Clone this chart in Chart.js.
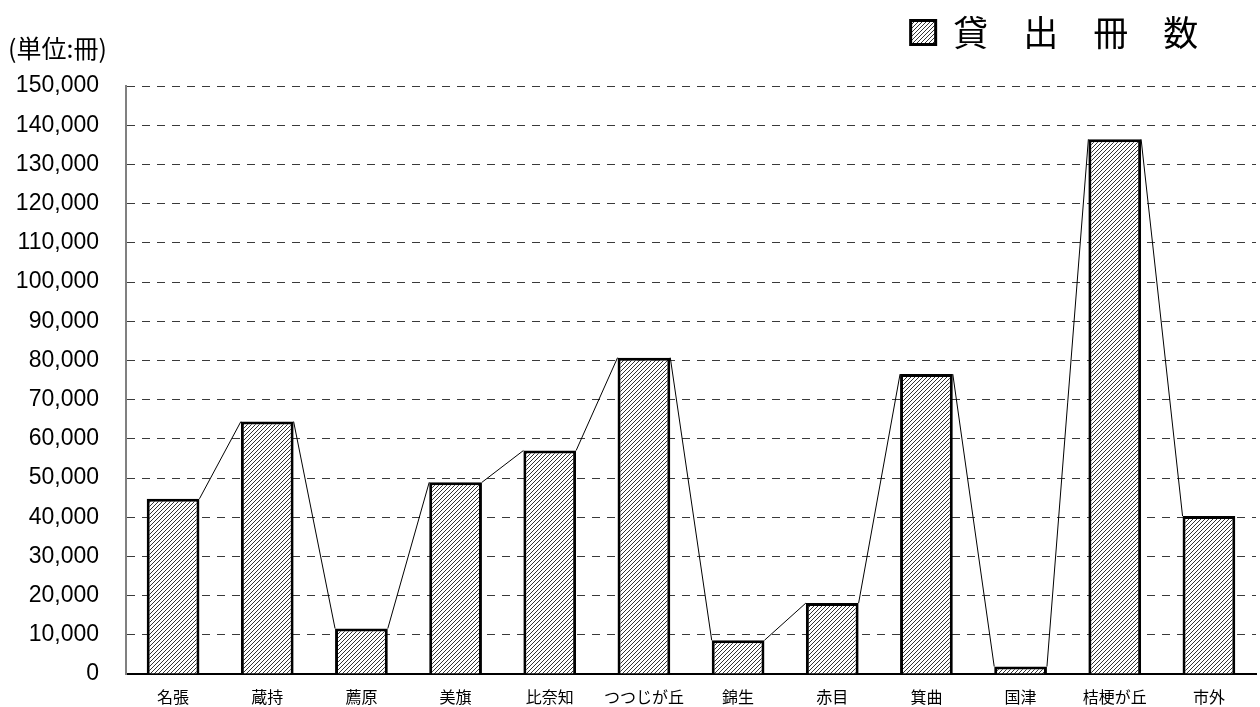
<!DOCTYPE html>
<html>
<head>
<meta charset="utf-8">
<script src="https://cdn.jsdelivr.net/npm/chart.js@4/dist/chart.umd.min.js"></script>
<style>
html,body{margin:0;padding:0;background:#fff;}
#wrap{width:1260px;height:707px;position:relative;}
</style>
</head>
<body>
<div id="wrap"><canvas id="c" width="1260" height="707"></canvas></div>
<script>
const categories = ['名張','蔵持','薦原','美旗','比奈知','つつじが丘','錦生','赤目','箕曲','国津','桔梗が丘','市外'];
const loans = [44700, 64400, 11600, 48900, 57000, 80700, 8600, 18100, 76500, 1900, 136400, 40300];
const seriesLabel = '貸　出　冊　数　 ';
const unitLabel = '(単位:冊)';
const yMin = 0, yMax = 150000, yStep = 10000;

function makeHatch() {
  const n = 4;
  const c = document.createElement('canvas');
  c.width = n; c.height = n;
  const g = c.getContext('2d');
  g.fillStyle = '#fff';
  g.fillRect(0, 0, n, n);
  g.strokeStyle = '#333';
  g.lineWidth = 1;
  g.beginPath();
  g.moveTo(-1, n + 1); g.lineTo(n + 1, -1);
  g.moveTo(-1, 1); g.lineTo(1, -1);
  g.moveTo(n - 1, n + 1); g.lineTo(n + 1, n - 1);
  g.stroke();
  return g.createPattern(c, 'repeat');
}

const ctx = document.getElementById('c').getContext('2d');
const hatch = makeHatch();

const seriesLines = {
  id: 'seriesLines',
  afterDatasetsDraw(chart) {
    const meta = chart.getDatasetMeta(0);
    const c = chart.ctx;
    c.save();
    c.strokeStyle = '#000';
    c.lineWidth = 1;
    c.beginPath();
    for (let i = 0; i < meta.data.length - 1; i++) {
      const a = meta.data[i].getProps(['x','y','width'], true);
      const b = meta.data[i + 1].getProps(['x','y','width'], true);
      c.moveTo(a.x + a.width / 2, a.y);
      c.lineTo(b.x - b.width / 2, b.y);
    }
    c.stroke();
    c.restore();
  }
};

const unitText = {
  id: 'unitText',
  afterDraw(chart) {
    const c = chart.ctx;
    c.save();
    c.fillStyle = '#000';
    c.font = '25px "Noto Sans CJK JP"';
    c.textAlign = 'left';
    c.textBaseline = 'middle';
    c.fillText(unitLabel, 8, 48);
    c.restore();
  }
};

new Chart(ctx, {
  type: 'bar',
  data: {
    labels: categories,
    datasets: [{
      label: seriesLabel,
      data: loans,
      backgroundColor: hatch,
      borderColor: '#000',
      borderWidth: 3,
      borderSkipped: 'bottom',
      categoryPercentage: 1,
      barPercentage: 0.56
    }]
  },
  options: {
    responsive: false,
    animation: false,
    devicePixelRatio: 1,
    layout: { padding: { left: 0, right: 4, top: 0, bottom: 0 } },
    plugins: {
      legend: {
        display: true,
        position: 'top',
        align: 'end',
        labels: {
          color: '#000',
          font: { family: '"Noto Sans CJK JP"', size: 35 },
          boxWidth: 25,
          boxHeight: 24,
          padding: 15
        }
      },
      title: {
        display: true,
        text: '',
        weight: 500,
        padding: 0,
        font: { size: 26, lineHeight: 1 }
      },
      tooltip: { enabled: false }
    },
    scales: {
      x: {
        grid: { display: false, drawTicks: false },
        border: { display: true, color: '#000', width: 2 },
        ticks: {
          color: '#000',
          font: { family: '"Noto Sans CJK JP"', size: 16 },
          padding: 13,
          maxRotation: 0,
          autoSkip: false
        },
        afterFit(scale) {
          scale.height = 33;
        }
      },
      y: {
        min: yMin,
        max: yMax,
        grid: {
          drawTicks: false,
          color: (c) => (c.tick && c.tick.value === 0) ? 'rgba(0,0,0,0)' : '#3a3a3a',
          lineWidth: 1
        },
        border: { display: true, color: '#808080', width: 2, dash: [8, 7] },
        ticks: {
          stepSize: yStep,
          color: '#000',
          font: { family: '"Liberation Sans", Arial', size: 23 },
          padding: 27,
          callback: (v) => Number(v).toLocaleString('en-US')
        },
        afterFit(scale) {
          scale.width = 126;
          scale.paddingTop = 0;
          scale.paddingBottom = 0;
        }
      }
    }
  },
  plugins: [seriesLines, unitText]
});
</script>
</body>
</html>
